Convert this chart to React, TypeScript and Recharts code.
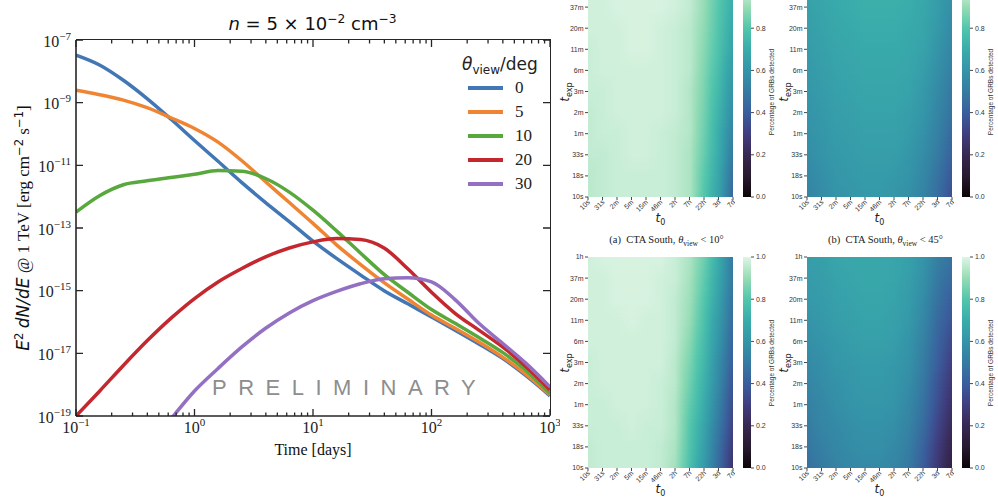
import React from 'react';
import { LineChart, Line, XAxis, YAxis, Legend, ScatterChart, Scatter, BarChart, Bar } from 'recharts';

// ---- light curves (left panel) ----
const TIME_DAYS = [0.1, 0.158, 0.251, 0.398, 0.631, 1, 1.58, 2.51, 3.98, 6.31, 10, 15.8, 25.1, 39.8, 63.1, 100, 158, 251, 398, 631, 1000];
const FLUX_0 = [3.3e-8, 1.6e-8, 5.2e-9, 1.35e-9, 3.0e-10, 6.2e-11, 1.35e-11, 2.8e-12, 6.5e-13, 1.6e-13, 3.8e-14, 1.07e-14, 3.2e-15, 1.0e-15, 3.8e-16, 1.45e-16, 5.5e-17, 2.0e-17, 6.9e-18, 1.9e-18, 4.4e-19];
const FLUX_5 = [2.5e-9, 1.8e-9, 1.2e-9, 6.9e-10, 3.3e-10, 1.5e-10, 5.5e-11, 1.4e-11, 3.0e-12, 6.5e-13, 1.4e-13, 2.9e-14, 6.9e-15, 1.8e-15, 5.4e-16, 1.66e-16, 6.3e-17, 2.3e-17, 7.6e-18, 2.1e-18, 4.7e-19];
const FLUX_10 = [3.2e-13, 1.07e-12, 2.4e-12, 3.2e-12, 4.1e-12, 5.2e-12, 6.8e-12, 6.5e-12, 3.8e-12, 1.4e-12, 3.7e-13, 8.1e-14, 1.6e-14, 3.3e-15, 8.9e-16, 2.5e-16, 9.1e-17, 3.2e-17, 1.07e-17, 2.8e-18, 5.2e-19];
const FLUX_20 = [1.0e-19, 6.2e-19, 4.1e-18, 2.5e-17, 1.3e-16, 5.6e-16, 1.9e-15, 5.1e-15, 1.2e-14, 2.3e-14, 3.6e-14, 4.6e-14, 4.3e-14, 2.3e-14, 5.0e-15, 8.9e-16, 1.9e-16, 5.5e-17, 1.6e-17, 3.7e-18, 6.8e-19];
const FLUX_30 = [null, null, null, null, 7.9e-20, 6.3e-19, 3.3e-18, 1.6e-17, 6.3e-17, 1.95e-16, 4.8e-16, 9.5e-16, 1.66e-15, 2.4e-15, 2.6e-15, 1.9e-15, 5.2e-16, 9.1e-17, 2.1e-17, 4.7e-18, 8.5e-19];

const VIEW_ANGLES = ['0', '5', '10', '20', '30'];
const LINE_COLORS = ['#4277b6', '#ef8533', '#58a83d', '#c4282e', '#9370c2'];

const Y_TICKS = [1e-19, 1e-17, 1e-15, 1e-13, 1e-11, 1e-9, 1e-7];
const X_DECADES = [0.1, 1, 10, 100];

// ---- detection heatmaps (right panels) ----
const T0_LABELS = ['10s', '31s', '2m', '5m', '15m', '46m', '2h', '7h', '22h', '3d', '7d'];
const TEXP_LABELS = ['10s', '18s', '33s', '1m', '2m', '3m', '6m', '11m', '20m', '37m', '1h'];
const CB_TICKS = [0, 0.2, 0.4, 0.6, 0.8, 1.0];

// rows: t_exp from 10s (first) to 1h (last); columns: t0 10s..7d
const DET_SOUTH_10 = [
  [0.95, 0.96, 0.97, 0.97, 0.97, 0.97, 0.96, 0.93, 0.8, 0.65, 0.43],
  [0.95, 0.96, 0.97, 0.97, 0.97, 0.97, 0.96, 0.93, 0.81, 0.67, 0.46],
  [0.96, 0.96, 0.97, 0.98, 0.98, 0.97, 0.96, 0.93, 0.83, 0.69, 0.5],
  [0.96, 0.97, 0.97, 0.98, 0.98, 0.97, 0.96, 0.94, 0.84, 0.7, 0.53],
  [0.96, 0.97, 0.98, 0.98, 0.98, 0.98, 0.97, 0.94, 0.85, 0.72, 0.57],
  [0.97, 0.97, 0.98, 0.98, 0.98, 0.98, 0.97, 0.94, 0.86, 0.74, 0.6],
  [0.97, 0.98, 0.98, 0.98, 0.98, 0.98, 0.97, 0.95, 0.87, 0.76, 0.63],
  [0.97, 0.98, 0.98, 0.99, 0.99, 0.98, 0.97, 0.95, 0.88, 0.78, 0.66],
  [0.98, 0.98, 0.98, 0.99, 0.99, 0.98, 0.97, 0.95, 0.89, 0.79, 0.68],
  [0.98, 0.98, 0.99, 0.99, 0.99, 0.99, 0.98, 0.96, 0.9, 0.8, 0.7],
  [0.98, 0.98, 0.99, 0.99, 0.99, 0.99, 0.98, 0.96, 0.9, 0.81, 0.71],
];
const DET_SOUTH_45 = [
  [0.53, 0.57, 0.6, 0.61, 0.62, 0.62, 0.61, 0.58, 0.53, 0.45, 0.35],
  [0.55, 0.58, 0.61, 0.62, 0.63, 0.63, 0.62, 0.6, 0.55, 0.47, 0.38],
  [0.57, 0.6, 0.62, 0.63, 0.64, 0.64, 0.64, 0.61, 0.57, 0.5, 0.41],
  [0.59, 0.61, 0.63, 0.64, 0.65, 0.65, 0.65, 0.63, 0.59, 0.52, 0.44],
  [0.6, 0.62, 0.64, 0.65, 0.66, 0.66, 0.66, 0.64, 0.61, 0.54, 0.47],
  [0.61, 0.63, 0.65, 0.66, 0.67, 0.67, 0.67, 0.66, 0.62, 0.56, 0.49],
  [0.62, 0.64, 0.66, 0.67, 0.68, 0.68, 0.68, 0.67, 0.64, 0.58, 0.52],
  [0.63, 0.65, 0.67, 0.68, 0.69, 0.69, 0.69, 0.68, 0.66, 0.6, 0.54],
  [0.64, 0.66, 0.68, 0.69, 0.7, 0.7, 0.7, 0.69, 0.67, 0.62, 0.56],
  [0.65, 0.67, 0.69, 0.7, 0.71, 0.71, 0.71, 0.7, 0.68, 0.63, 0.58],
  [0.66, 0.68, 0.7, 0.71, 0.72, 0.72, 0.72, 0.71, 0.69, 0.65, 0.6],
];
const DET_LOWER_10 = [
  [0.96, 0.97, 0.97, 0.97, 0.97, 0.96, 0.92, 0.77, 0.63, 0.44, 0.25],
  [0.96, 0.97, 0.97, 0.97, 0.97, 0.96, 0.93, 0.79, 0.65, 0.46, 0.28],
  [0.97, 0.97, 0.97, 0.98, 0.97, 0.97, 0.94, 0.8, 0.67, 0.49, 0.31],
  [0.97, 0.97, 0.98, 0.98, 0.98, 0.97, 0.94, 0.82, 0.7, 0.52, 0.34],
  [0.97, 0.98, 0.98, 0.98, 0.98, 0.97, 0.95, 0.84, 0.72, 0.55, 0.37],
  [0.97, 0.98, 0.98, 0.98, 0.98, 0.98, 0.95, 0.86, 0.74, 0.57, 0.4],
  [0.98, 0.98, 0.98, 0.98, 0.98, 0.98, 0.96, 0.88, 0.76, 0.6, 0.42],
  [0.98, 0.98, 0.98, 0.99, 0.98, 0.98, 0.96, 0.9, 0.78, 0.62, 0.45],
  [0.98, 0.98, 0.99, 0.99, 0.99, 0.98, 0.96, 0.91, 0.8, 0.65, 0.47],
  [0.98, 0.98, 0.99, 0.99, 0.99, 0.98, 0.97, 0.92, 0.82, 0.67, 0.49],
  [0.98, 0.99, 0.99, 0.99, 0.99, 0.99, 0.97, 0.93, 0.84, 0.69, 0.5],
];
const DET_LOWER_45 = [
  [0.46, 0.5, 0.53, 0.55, 0.56, 0.56, 0.54, 0.49, 0.4, 0.27, 0.15],
  [0.48, 0.52, 0.55, 0.57, 0.58, 0.58, 0.56, 0.51, 0.42, 0.29, 0.18],
  [0.5, 0.54, 0.56, 0.58, 0.59, 0.59, 0.58, 0.53, 0.45, 0.32, 0.21],
  [0.52, 0.55, 0.58, 0.6, 0.61, 0.61, 0.6, 0.55, 0.47, 0.35, 0.24],
  [0.54, 0.57, 0.59, 0.61, 0.62, 0.62, 0.61, 0.57, 0.49, 0.37, 0.27],
  [0.56, 0.58, 0.61, 0.62, 0.63, 0.63, 0.62, 0.59, 0.51, 0.4, 0.3],
  [0.58, 0.6, 0.62, 0.64, 0.65, 0.65, 0.64, 0.6, 0.53, 0.42, 0.33],
  [0.6, 0.62, 0.64, 0.65, 0.66, 0.66, 0.65, 0.62, 0.55, 0.44, 0.37],
  [0.62, 0.63, 0.65, 0.66, 0.67, 0.67, 0.66, 0.63, 0.57, 0.47, 0.4],
  [0.63, 0.64, 0.66, 0.67, 0.68, 0.68, 0.67, 0.64, 0.59, 0.49, 0.44],
  [0.64, 0.65, 0.67, 0.68, 0.68, 0.68, 0.67, 0.65, 0.6, 0.52, 0.47],
];

// mako colormap, approximated by a few stops
const MAKO: [number, number, number, number][] = [
  [0.0, 11, 4, 5],
  [0.1, 40, 26, 48],
  [0.2, 55, 40, 82],
  [0.3, 64, 62, 128],
  [0.4, 58, 94, 157],
  [0.5, 53, 123, 162],
  [0.6, 52, 148, 168],
  [0.7, 57, 172, 171],
  [0.8, 82, 198, 172],
  [0.9, 150, 220, 181],
  [1.0, 222, 245, 229],
];

function mako(v: number): string {
  const c = Math.max(0, Math.min(1, v));
  for (let k = 1; k < MAKO.length; k++) {
    const [p1, r1, g1, b1] = MAKO[k];
    const [p0, r0, g0, b0] = MAKO[k - 1];
    if (c <= p1) {
      const f = (c - p0) / (p1 - p0);
      return `rgb(${Math.round(r0 + (r1 - r0) * f)},${Math.round(g0 + (g1 - g0) * f)},${Math.round(b0 + (b1 - b0) * f)})`;
    }
  }
  return 'rgb(222,245,229)';
}

const SERIF = '"Liberation Serif", "Times New Roman", serif';
const SANS = '"DejaVu Sans", sans-serif';
const HM_FONT = '"Liberation Sans", Arial, sans-serif';
const AXIS_COLOR = '#262626';
const FRAME_W = 1.6;

// left panel plot box
const LC_W = 560;
const LC_H = 497;
const LC_MARGIN = { top: 40, right: 10, bottom: 0, left: 0 };
const LC_YAXIS_W = 76;
const LC_XAXIS_H = 81;
const PLOT_W = LC_W - LC_MARGIN.right - LC_YAXIS_W;
const PLOT_H = LC_H - LC_MARGIN.top - LC_XAXIS_H;

const X_TICKS: number[] = [];
X_DECADES.forEach((d) => {
  for (let m = 1; m < 10; m++) X_TICKS.push(d * m);
});
X_TICKS.push(1000);

const expOf = (v: number) => Math.round(Math.log10(v));
const isDecade = (v: number) => Math.abs(Math.log10(v) - expOf(v)) < 1e-6;
const signed = (n: number) => (n < 0 ? `\u2212${-n}` : `${n}`);

const lightCurve = TIME_DAYS.map((t, i) => ({
  t,
  v0: FLUX_0[i],
  v5: FLUX_5[i],
  v10: FLUX_10[i],
  v20: FLUX_20[i],
  v30: FLUX_30[i],
}));
const SERIES_KEYS = ['v0', 'v5', 'v10', 'v20', 'v30'];

function PowLabel({ x, y, exp, anchor }: { x: number; y: number; exp: number; anchor: 'start' | 'middle' | 'end' }) {
  return (
    <text x={x} y={y} textAnchor={anchor} fontFamily={SERIF} fontSize={16} fill="#222">
      10<tspan dy={-7} fontSize={11}>{signed(exp)}</tspan>
    </text>
  );
}

// bottom axis tick, mirrored on the top edge of the box (ticks point inward)
function LogXTick(props: any) {
  const { x, y, payload } = props;
  const v = payload.value;
  const major = isDecade(v);
  const len = major ? 7 : 3.5;
  const top = y - PLOT_H;
  const d = `M${x},${y}V${y - len}M${x},${top}V${top + len}`;
  return (
    <g>
      <path d={d} stroke={AXIS_COLOR} strokeWidth={1.3} fill="none" />
      {major && <PowLabel x={x} y={y + 17} exp={expOf(v)} anchor="middle" />}
    </g>
  );
}

// left axis tick, mirrored on the right edge of the box
function LogYTick(props: any) {
  const { x, y, payload } = props;
  const right = x + PLOT_W;
  const d = `M${x},${y}H${x + 7}M${right},${y}H${right - 7}`;
  return (
    <g>
      <path d={d} stroke={AXIS_COLOR} strokeWidth={1.3} fill="none" />
      <PowLabel x={x - 5} y={y + 6.5} exp={expOf(payload.value)} anchor="end" />
    </g>
  );
}

function ViewLegend(props: any) {
  const items = [...(props.payload || [])]
    .filter((it: any) => VIEW_ANGLES.includes(it.value))
    .sort((a: any, b: any) => VIEW_ANGLES.indexOf(a.value) - VIEW_ANGLES.indexOf(b.value));
  return (
    <div style={{ fontFamily: SERIF, color: '#222' }}>
      <div style={{ fontFamily: SANS, fontSize: 17, height: 23, lineHeight: '23px', whiteSpace: 'nowrap' }}>
        <i>θ</i>
        <span style={{ fontSize: 12, position: 'relative', top: 4 }}>view</span>/deg
      </div>
      {items.map((it: any) => (
        <div key={it.value} style={{ display: 'flex', alignItems: 'center', height: 24 }}>
          <span style={{ display: 'inline-block', width: 35, height: 4, marginLeft: 6, background: it.color }} />
          <span style={{ marginLeft: 12, fontSize: 17, lineHeight: '24px' }}>{it.value}</span>
        </div>
      ))}
    </div>
  );
}

const Sup = ({ children }: { children: React.ReactNode }) => (
  <span style={{ fontSize: '0.68em', position: 'relative', top: '-0.55em' }}>{children}</span>
);

function LightCurvePanel() {
  return (
    <div style={{ position: 'absolute', left: 0, top: 0, width: LC_W, height: LC_H }}>
      <LineChart width={LC_W} height={LC_H} data={lightCurve} margin={LC_MARGIN}>
        <XAxis dataKey="t" type="number" scale="log" domain={[0.1, 1000]} ticks={X_TICKS} allowDataOverflow height={LC_XAXIS_H}
          interval={0} tickLine={false} tickSize={0} tickMargin={0}
          axisLine={{ stroke: AXIS_COLOR, strokeWidth: FRAME_W }} tick={LogXTick} />
        <YAxis type="number" scale="log" domain={[1e-19, 1e-7]} ticks={Y_TICKS} allowDataOverflow width={LC_YAXIS_W}
          interval={0} tickLine={false} tickSize={0} tickMargin={0}
          axisLine={{ stroke: AXIS_COLOR, strokeWidth: FRAME_W }} tick={LogYTick} />
        {SERIES_KEYS.map((k, i) => (
          <Line key={k} type="monotone" dataKey={k} name={VIEW_ANGLES[i]} stroke={LINE_COLORS[i]} strokeWidth={3.5}
            dot={false} activeDot={false} isAnimationActive={false} />
        ))}
        <Legend layout="horizontal" verticalAlign="middle" align="center" content={ViewLegend}
          wrapperStyle={{ left: 462, top: 53, width: 80, height: 'auto' }} />
      </LineChart>

      {/* top and right edges of the axes box */}
      <div style={{ position: 'absolute', left: LC_YAXIS_W, top: LC_MARGIN.top - FRAME_W / 2, width: PLOT_W + FRAME_W / 2, height: PLOT_H,
        boxSizing: 'border-box', borderTop: `${FRAME_W}px solid ${AXIS_COLOR}`, borderRight: `${FRAME_W}px solid ${AXIS_COLOR}`, pointerEvents: 'none' }} />

      <div style={{ position: 'absolute', left: 0, top: 12, width: 625, textAlign: 'center', fontFamily: SANS, fontSize: 18, lineHeight: '24px', color: '#111', whiteSpace: 'nowrap' }}>
        <i>n</i> = 5 × 10<Sup>−2</Sup> cm<Sup>−3</Sup>
      </div>
      <div style={{ position: 'absolute', left: 23, top: 228, transform: 'translate(-50%, -50%) rotate(-90deg)', whiteSpace: 'nowrap', fontFamily: SERIF, fontSize: 17, color: '#111' }}>
        <span style={{ fontFamily: SANS, fontStyle: 'italic' }}>E</span>
        <span style={{ fontFamily: SANS }}><Sup>2</Sup></span>{' '}
        <span style={{ fontFamily: SANS, fontStyle: 'italic' }}>dN/dE</span> @ 1 TeV [erg cm
        <span style={{ fontFamily: SANS }}><Sup>−2</Sup></span> s<span style={{ fontFamily: SANS }}><Sup>−1</Sup></span>]
      </div>
      <div style={{ position: 'absolute', left: 0, top: 440, width: 626, textAlign: 'center', fontFamily: SERIF, fontSize: 16, lineHeight: '20px', color: '#111' }}>
        Time [days]
      </div>
      <div style={{ position: 'absolute', left: 212, top: 375, fontFamily: HM_FONT, fontSize: 22, letterSpacing: 11.5, color: '#8d8d8d', lineHeight: '26px', whiteSpace: 'nowrap' }}>
        PRELIMINARY
      </div>
    </div>
  );
}

// ---- heatmap helpers ----
const HM_W = 145;
const HM_H = 211;
const HM_YAXIS = 32;
const HM_XAXIS = 34;
const HM_PAD = 6;
const CELL_W = HM_W / 10;
const CELL_H = HM_H / 10;
const STRIPS = 6;
const IDX = [0, 1, 2, 3, 4, 5, 6, 7, 8, 9, 10];

function buildCells(grid: number[][], id: string) {
  const cells: any[] = [];
  for (let j = 0; j < 10; j++) {
    for (let i = 0; i < 10; i++) {
      cells.push({
        x: i + 0.5,
        y: j + 0.5,
        bl: grid[j][i],
        br: grid[j][i + 1],
        tl: grid[j + 1][i],
        tr: grid[j + 1][i + 1],
        id: `${id}-${i}-${j}`,
      });
    }
  }
  return cells;
}

function HeatCell(props: any) {
  const { cx, cy, payload } = props;
  if (cx == null || cy == null || !payload) return null;
  const xl = Math.round(cx - CELL_W / 2);
  const xr = Math.round(cx + CELL_W / 2);
  const yTop = cy - CELL_H / 2;
  const h = CELL_H / STRIPS;
  const strips = Array.from({ length: STRIPS }, (_, k) => k);
  return (
    <g>
      <defs>
        {strips.map((k) => {
          const f = 1 - (k + 0.5) / STRIPS;
          const l = payload.bl + (payload.tl - payload.bl) * f;
          const r = payload.br + (payload.tr - payload.br) * f;
          return (
            <linearGradient key={k} id={`${payload.id}-${k}`} x1="0" y1="0" x2="1" y2="0">
              <stop offset="0" stopColor={mako(l)} />
              <stop offset="0.5" stopColor={mako((l + r) / 2)} />
              <stop offset="1" stopColor={mako(r)} />
            </linearGradient>
          );
        })}
      </defs>
      {strips.map((k) => {
        const y1 = Math.round(yTop + k * h);
        const y2 = Math.round(yTop + (k + 1) * h);
        return (
          <rect key={k} x={xl} y={y1} width={xr - xl} height={Math.max(0, y2 - y1)}
            fill={`url(#${payload.id}-${k})`} shapeRendering="crispEdges" />
        );
      })}
    </g>
  );
}

function T0Tick(props: any) {
  const { x, y, payload } = props;
  const px = x + 2.5;
  const py = y + 5.5;
  return (
    <g>
      <path d={`M${x},${y}V${y + 3}`} stroke="#333" strokeWidth={0.9} fill="none" />
      <text x={px} y={py} transform={`rotate(-45 ${px} ${py})`} textAnchor="end" fontFamily={HM_FONT} fontSize={7} fill="#333">
        {T0_LABELS[payload.value]}
      </text>
    </g>
  );
}

function TexpTick(props: any) {
  const { x, y, payload } = props;
  return (
    <g>
      <path d={`M${x - 3},${y}H${x}`} stroke="#333" strokeWidth={0.9} fill="none" />
      <text x={x - 4.5} y={y + 2.4} textAnchor="end" fontFamily={HM_FONT} fontSize={7} fill="#333">
        {TEXP_LABELS[payload.value]}
      </text>
    </g>
  );
}

function CbTick(props: any) {
  const { x, y, payload } = props;
  return (
    <g>
      <path d={`M${x},${y}H${x + 3}`} stroke="#333" strokeWidth={0.9} fill="none" />
      <text x={x + 5} y={y + 2.4} textAnchor="start" fontFamily={HM_FONT} fontSize={7} fill="#333">
        {Number(payload.value).toFixed(1)}
      </text>
    </g>
  );
}

function HeatPanel({ id, grid, left, top, caption }: { id: string; grid: number[][]; left: number; top: number; caption?: React.ReactNode }) {
  const cells = buildCells(grid, id);
  const chartH = HM_PAD + HM_H + HM_XAXIS;
  const midY = top + HM_H / 2;
  const midX = left + HM_W / 2;
  // ticks that would fall above the page are left out
  const rowTicks = IDX.filter((k) => top + HM_H - (k * HM_H) / 10 >= 3);
  const cbTicks = CB_TICKS.filter((v) => top + HM_H - v * HM_H >= 3);
  return (
    <>
      <div style={{ position: 'absolute', left: left - HM_YAXIS, top: top - HM_PAD }}>
        <ScatterChart width={HM_YAXIS + HM_W + 2} height={chartH} margin={{ top: HM_PAD, right: 2, bottom: 0, left: 0 }}>
          <XAxis type="number" dataKey="x" domain={[0, 10]} ticks={IDX} interval={0} height={HM_XAXIS} axisLine={false}
            tickLine={false} tickSize={0} tickMargin={0} tick={T0Tick} allowDataOverflow />
          <YAxis type="number" dataKey="y" domain={[0, 10]} ticks={rowTicks} interval={0} width={HM_YAXIS} axisLine={false}
            tickLine={false} tickSize={0} tickMargin={0} tick={TexpTick} allowDataOverflow />
          <Scatter data={cells} shape={HeatCell} isAnimationActive={false} />
        </ScatterChart>
      </div>
      <div style={{ position: 'absolute', left: left + HM_W + 10, top: top - HM_PAD }}>
        <BarChart width={8 + 34} height={chartH} data={[{ name: 'cb', p: 1 }]} barCategoryGap={0}
          margin={{ top: HM_PAD, right: 0, bottom: HM_XAXIS, left: 0 }}>
          <defs>
            <linearGradient id={`cb-${id}`} x1="0" y1="1" x2="0" y2="0">
              {MAKO.map(([p]) => (
                <stop key={p} offset={p} stopColor={mako(p)} />
              ))}
            </linearGradient>
          </defs>
          <XAxis dataKey="name" hide />
          <YAxis orientation="right" type="number" domain={[0, 1]} ticks={cbTicks} interval={0} width={34} axisLine={false}
            tickLine={false} tickSize={0} tickMargin={0} tick={CbTick} />
          <Bar dataKey="p" fill={`url(#cb-${id})`} isAnimationActive={false} />
        </BarChart>
      </div>
      <div style={{ position: 'absolute', left: left + 183, top: midY, transform: 'translate(-50%, -50%) rotate(-90deg)', fontFamily: HM_FONT, fontSize: 6.5, color: '#333', whiteSpace: 'nowrap' }}>
        Percentage of GRBs detected
      </div>
      <div style={{ position: 'absolute', left: left - 23, top: midY, transform: 'translate(-50%, -50%) rotate(-90deg)', fontFamily: SANS, fontSize: 12, color: '#222', whiteSpace: 'nowrap' }}>
        <i>t</i><span style={{ fontSize: 8, position: 'relative', top: 3 }}>exp</span>
      </div>
      <div style={{ position: 'absolute', left: midX, top: top + HM_H + 22, transform: 'translate(-50%, -50%)', fontFamily: SANS, fontSize: 12, lineHeight: '13px', color: '#222', whiteSpace: 'nowrap' }}>
        <i>t</i><span style={{ fontSize: 8, position: 'relative', top: 3 }}>0</span>
      </div>
      {caption && (
        <div style={{ position: 'absolute', left: midX + 6, top: top + HM_H + 42, transform: 'translate(-50%, -50%)', fontFamily: SERIF, fontSize: 10.5, color: '#222', whiteSpace: 'nowrap' }}>
          {caption}
        </div>
      )}
    </>
  );
}

const Caption = ({ tag, limit }: { tag: string; limit: string }) => (
  <span>
    ({tag})&nbsp;&nbsp;CTA South, <i>θ</i>
    <span style={{ fontSize: 7.5, position: 'relative', top: 2.5 }}>view</span> &lt; {limit}°
  </span>
);

export default function App() {
  return (
    <div style={{ position: 'absolute', left: 0, top: 0, width: 998, height: 497, overflow: 'hidden', background: '#fff' }}>
      <LightCurvePanel />
      <HeatPanel id="a" grid={DET_SOUTH_10} left={588} top={-14} caption={<Caption tag="a" limit="10" />} />
      <HeatPanel id="b" grid={DET_SOUTH_45} left={807} top={-14} caption={<Caption tag="b" limit="45" />} />
      <HeatPanel id="c" grid={DET_LOWER_10} left={588} top={257} />
      <HeatPanel id="d" grid={DET_LOWER_45} left={807} top={257} />
    </div>
  );
}
